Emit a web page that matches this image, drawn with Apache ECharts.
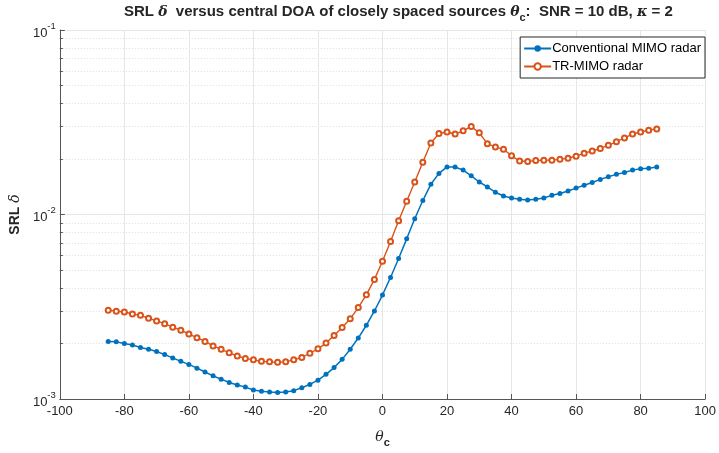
<!DOCTYPE html>
<html>
<head>
<meta charset="utf-8">
<script src="https://cdn.jsdelivr.net/npm/echarts@6/dist/echarts.min.js"></script>
<style>
  html, body { margin: 0; padding: 0; background: #fff; }
  #chart { width: 719px; height: 453px; }
</style>
</head>
<body>
<div id="chart"></div>
<script>
// theta_c from -85 to 85 step 2.5
var thetaC = [
  -85, -82.5, -80, -77.5, -75, -72.5, -70, -67.5, -65, -62.5, -60, -57.5, -55, -52.5,
  -50, -47.5, -45, -42.5, -40, -37.5, -35, -32.5, -30, -27.5, -25, -22.5, -20, -17.5,
  -15, -12.5, -10, -7.5, -5, -2.5, 0, 2.5, 5, 7.5, 10, 12.5, 15, 17.5, 20, 22.5,
  25, 27.5, 30, 32.5, 35, 37.5, 40, 42.5, 45, 47.5, 50, 52.5, 55, 57.5, 60, 62.5,
  65, 67.5, 70, 72.5, 75, 77.5, 80, 82.5, 85
];

var conventionalMimo = [
  2.05e-3, 2.04e-3, 2.00e-3, 1.96e-3, 1.90e-3, 1.86e-3, 1.81e-3, 1.74e-3, 1.67e-3, 1.60e-3, 1.54e-3, 1.47e-3, 1.40e-3, 1.335e-3,
  1.28e-3, 1.23e-3, 1.19e-3, 1.16e-3, 1.12e-3, 1.10e-3, 1.09e-3, 1.085e-3, 1.09e-3, 1.11e-3, 1.15e-3, 1.20e-3, 1.265e-3, 1.36e-3,
  1.48e-3, 1.64e-3, 1.86e-3, 2.14e-3, 2.51e-3, 3.00e-3, 3.66e-3, 4.56e-3, 5.77e-3, 7.38e-3, 9.48e-3, 1.19e-2, 1.46e-2, 1.67e-2, 1.81e-2, 1.81e-2,
  1.74e-2, 1.62e-2, 1.50e-2, 1.41e-2, 1.32e-2, 1.26e-2, 1.23e-2, 1.21e-2, 1.20e-2, 1.21e-2, 1.23e-2, 1.27e-2, 1.30e-2, 1.34e-2, 1.39e-2, 1.44e-2,
  1.49e-2, 1.55e-2, 1.60e-2, 1.65e-2, 1.69e-2, 1.74e-2, 1.77e-2, 1.78e-2, 1.81e-2
];

var trMimo = [
  3.03e-3, 2.99e-3, 2.96e-3, 2.89e-3, 2.84e-3, 2.74e-3, 2.65e-3, 2.56e-3, 2.45e-3, 2.36e-3, 2.25e-3, 2.15e-3, 2.05e-3, 1.94e-3,
  1.86e-3, 1.78e-3, 1.71e-3, 1.66e-3, 1.63e-3, 1.60e-3, 1.59e-3, 1.58e-3, 1.59e-3, 1.63e-3, 1.68e-3, 1.77e-3, 1.87e-3, 2.01e-3,
  2.21e-3, 2.44e-3, 2.72e-3, 3.13e-3, 3.67e-3, 4.45e-3, 5.58e-3, 7.14e-3, 9.25e-3, 1.18e-2, 1.50e-2, 1.92e-2, 2.44e-2, 2.75e-2, 2.80e-2, 2.73e-2,
  2.84e-2, 3.00e-2, 2.77e-2, 2.42e-2, 2.32e-2, 2.26e-2, 2.08e-2, 1.95e-2, 1.94e-2, 1.96e-2, 1.97e-2, 1.97e-2, 1.99e-2, 2.02e-2, 2.07e-2, 2.15e-2,
  2.21e-2, 2.28e-2, 2.37e-2, 2.48e-2, 2.60e-2, 2.73e-2, 2.80e-2, 2.86e-2, 2.91e-2
];

var seriesNames = ['Conventional MIMO radar', 'TR-MIMO radar'];
var yDecades = [1e-3, 1e-2, 1e-1];
var yMinor = [];
for (var d = 0; d < yDecades.length - 1; d++) {
  for (var m = 2; m <= 9; m++) yMinor.push(+(yDecades[d] * m).toPrecision(3));
}

function pairs(xs, ys) {
  return xs.map(function (x, i) { return [x, ys[i]]; });
}

var txt = '#262626';
var axisCol = '#555';
var sans = 'Liberation Sans, Arial, sans-serif';
var serif = 'DejaVu Serif, serif';

var chart = echarts.init(document.getElementById('chart'));
chart.setOption({
  animation: false,
  backgroundColor: '#fff',
  title: {
    text: '{b|SRL }{i|δ}{b|  versus central DOA of closely spaced sources }{i|θ}{s|c}{b|:  SNR = 10 dB, }{i|κ}{b| = 2}',
    left: 119,
    top: -4,
    textStyle: {
      rich: {
        b: { fontFamily: sans, fontWeight: 'bold', fontSize: 15, color: txt, lineHeight: 22 },
        i: { fontFamily: serif, fontStyle: 'italic', fontSize: 14, color: txt, lineHeight: 22 },
        s: { fontFamily: sans, fontWeight: 'bold', fontSize: 11, color: txt, padding: [11, 0, 0, 0] }
      }
    }
  },
  legend: {
    orient: 'vertical',
    right: 14,
    top: 37,
    data: seriesNames,
    backgroundColor: '#fff',
    borderColor: txt,
    borderWidth: 1,
    borderRadius: 0,
    padding: [5, 4, 5, 3],
    itemGap: 5,
    itemWidth: 27,
    itemHeight: 8,
    textStyle: { fontFamily: sans, fontSize: 13, color: '#000', padding: [0, 0, 0, -4] }
  },
  grid: { left: 57, right: 12, top: 30, bottom: 49, containLabel: false },
  xAxis: {
    type: 'value',
    min: -100,
    max: 100,
    interval: 20,
    name: '{i|θ}{s|c}',
    nameLocation: 'middle',
    nameGap: 27,
    nameTextStyle: {
      rich: {
        i: { fontFamily: serif, fontStyle: 'italic', fontSize: 14, color: txt },
        s: { fontFamily: sans, fontWeight: 'bold', fontSize: 11, color: txt, padding: [11, 0, 0, 0] }
      }
    },
    axisLine: { onZero: false, lineStyle: { color: axisCol, width: 1 } },
    axisTick: { inside: true, length: 5, lineStyle: { color: axisCol } },
    axisLabel: { fontFamily: sans, fontSize: 13, color: txt, margin: 6 },
    splitLine: { show: true, lineStyle: { color: '#e6e6e6', width: 1 } }
  },
  yAxis: [
    {
      type: 'log',
      logBase: 10,
      min: 1e-3,
      max: 1e-1,
      name: '{b|SRL }{i|δ}',
      nameLocation: 'middle',
      nameGap: 24,
      nameRotate: 90,
      nameTextStyle: {
        rich: {
          b: { fontFamily: sans, fontWeight: 'bold', fontSize: 14, color: txt },
          i: { fontFamily: serif, fontStyle: 'italic', fontSize: 14, color: txt }
        }
      },
      axisLine: { onZero: false, lineStyle: { color: axisCol, width: 1 } },
      axisTick: { inside: true, length: 5, lineStyle: { color: axisCol } },
      axisLabel: {
        margin: 4,
        formatter: function (v) {
          return '{b|10}{e|' + Math.round(Math.log10(v)) + '}';
        },
        rich: {
          b: { fontFamily: sans, fontSize: 13, color: txt, padding: [6, 0, 0, 0] },
          e: { fontFamily: sans, fontSize: 9.5, color: txt, padding: [0, 0, 8, 0] }
        }
      },
      splitLine: { show: true, lineStyle: { color: '#e6e6e6', width: 1 } }
    },
    {
      type: 'log',
      logBase: 10,
      min: 1e-3,
      max: 1e-1,
      position: 'left',
      axisLine: { show: false, onZero: false },
      axisLabel: { show: false },
      axisTick: { show: true, inside: true, length: 3, customValues: yMinor, lineStyle: { color: axisCol } },
      splitLine: { show: true, lineStyle: { color: '#dedede', width: 1, type: [1, 2] } }
    }
  ],
  series: [
    {
      name: seriesNames[0],
      type: 'line',
      data: pairs(thetaC, conventionalMimo),
      symbol: 'circle',
      symbolSize: 5,
      color: '#0072BD',
      lineStyle: { width: 1.5, color: '#0072BD' },
      itemStyle: { color: '#0072BD' },
      z: 3
    },
    {
      name: seriesNames[1],
      type: 'line',
      data: pairs(thetaC, trMimo),
      symbol: 'emptyCircle',
      symbolSize: 5,
      color: '#D95319',
      lineStyle: { width: 1.4, color: '#D95319' },
      itemStyle: { color: '#D95319', borderWidth: 1 },
      z: 3
    }
  ]
});
</script>
</body>
</html>
